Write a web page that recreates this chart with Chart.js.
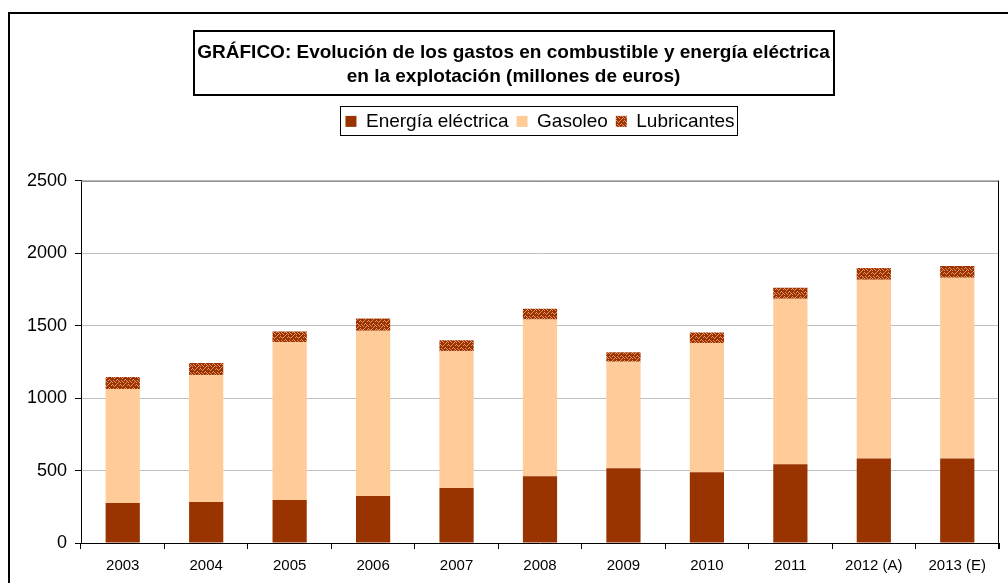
<!DOCTYPE html>
<html>
<head>
<meta charset="utf-8">
<script src="https://cdn.jsdelivr.net/npm/chart.js@4/dist/chart.umd.min.js"></script>
<style>
  html, body { margin: 0; padding: 0; background: #fff; }
  #wrap { width: 1008px; height: 583px; position: relative; }
</style>
</head>
<body>
<div id="wrap"><canvas id="chart"></canvas></div>
<script>
// data (millones de euros)
const years = ["2003", "2004", "2005", "2006", "2007", "2008", "2009", "2010", "2011", "2012 (A)", "2013 (E)"];
const energiaElectrica = [276, 283, 297, 324, 379, 461, 516, 488, 543, 584, 584];
const gasoleo = [788, 877, 1091, 1142, 945, 1082, 735, 893, 1144, 1233, 1247];
const lubricantes = [82, 82, 73, 84, 75, 75, 66, 73, 75, 82, 82];
const yTicks = [0, 500, 1000, 1500, 2000, 2500];

const FONT = "'Liberation Sans', Arial, sans-serif";

// weave-like pattern for the lubricants series
function makeWeave() {
  const c = document.createElement("canvas");
  c.width = 8; c.height = 8;
  const g = c.getContext("2d");
  g.fillStyle = "#993300";
  g.fillRect(0, 0, 8, 8);
  g.fillStyle = "#e8956a";
  const dots = [
    [0,0],[1,1],[2,2],[3,1],[4,0],
    [5,3],[6,4],[7,5],[6,6],[5,7],
    [1,4],[2,5],[0,6],[3,6],
    [4,4],[7,1]
  ];
  dots.forEach(([x, y]) => g.fillRect(x, y, 1, 1));
  return g.createPattern(c, "repeat");
}

const boxes = {
  id: "boxes",
  beforeInit(chart) {
    // leave room between the legend and the plot area
    const fit = chart.legend.fit;
    chart.legend.fit = function () {
      fit.call(this);
      this.height += 40;
    };
  },
  beforeDraw(chart) {
    const ctx = chart.ctx;
    ctx.save();
    ctx.fillStyle = "#fff";
    ctx.fillRect(0, 0, chart.width, chart.height);
    ctx.restore();
  },
  afterDraw(chart) {
    const ctx = chart.ctx;
    const a = chart.chartArea;
    ctx.save();
    // outer chart border
    ctx.strokeStyle = "#000";
    ctx.lineWidth = 2;
    ctx.beginPath();
    ctx.moveTo(9, 600);
    ctx.lineTo(9, 13);
    ctx.lineTo(1010, 13);
    ctx.stroke();
    // title box
    ctx.strokeRect(194, 31, 640, 64);
    // legend box
    ctx.lineWidth = 1;
    ctx.strokeRect(340.5, 106.5, 397, 29);
    // plot area border
    ctx.strokeStyle = "#808080";
    ctx.beginPath();
    ctx.moveTo(a.left, a.top + 0.5);
    ctx.lineTo(a.right, a.top + 0.5);
    ctx.stroke();
    ctx.strokeStyle = "#000";
    ctx.beginPath();
    ctx.moveTo(a.right - 0.5, a.top);
    ctx.lineTo(a.right - 0.5, a.bottom + 6);
    ctx.stroke();
    ctx.restore();
  }
};

new Chart(document.getElementById("chart"), {
  type: "bar",
  data: {
    labels: years,
    datasets: [
      { label: "Energía eléctrica", data: energiaElectrica, backgroundColor: "#993300" },
      { label: "Gasoleo", data: gasoleo, backgroundColor: "#fecb99" },
      { label: "Lubricantes", data: lubricantes, backgroundColor: makeWeave() }
    ]
  },
  options: {
    responsive: true,
    maintainAspectRatio: false,
    animation: false,
    devicePixelRatio: 1,
    layout: { padding: { left: 19, right: 0, top: 0, bottom: 0 } },
    datasets: { bar: { categoryPercentage: 1, barPercentage: 0.41, borderWidth: 0 } },
    plugins: {
      title: {
        display: true,
        text: ["GRÁFICO: Evolución de los gastos en combustible y energía eléctrica", "en la explotación (millones de euros)"],
        color: "#000",
        font: { family: FONT, size: 19, weight: "bold", lineHeight: 1.26 },
        padding: { top: 41, bottom: 15 }
      },
      legend: {
        display: true,
        fullSize: false,
        labels: {
          color: "#000",
          font: { family: FONT, size: 19 },
          boxWidth: 11,
          boxHeight: 11,
          padding: 8
        }
      },
      tooltip: { enabled: false }
    },
    scales: {
      x: {
        stacked: true,
        grid: { display: true, drawOnChartArea: false, drawTicks: true, tickLength: 6, color: "#000", offset: true },
        border: { color: "#000", width: 1 },
        ticks: { color: "#000", font: { family: FONT, size: 15 }, padding: 8, maxRotation: 0, autoSkip: false },
        afterFit(scale) { scale.height = 40; }
      },
      y: {
        stacked: true,
        min: 0,
        max: 2500,
        afterBuildTicks(scale) { scale.ticks = yTicks.map(v => ({ value: v })); },
        grid: { color: "#c0c0c0", tickColor: "#000", tickLength: 6 },
        border: { color: "#000", width: 1 },
        ticks: { color: "#000", font: { family: FONT, size: 18 }, padding: 8, callback: v => String(v) },
        afterFit(scale) { scale.width = 62; }
      },
      // empty spacer on the right so the plot ends where the reference does
      yR: {
        position: "right",
        display: true,
        grid: { display: false },
        border: { display: false },
        ticks: { display: false },
        afterFit(scale) { scale.width = 9; }
      }
    }
  },
  plugins: [boxes]
});
</script>
</body>
</html>
